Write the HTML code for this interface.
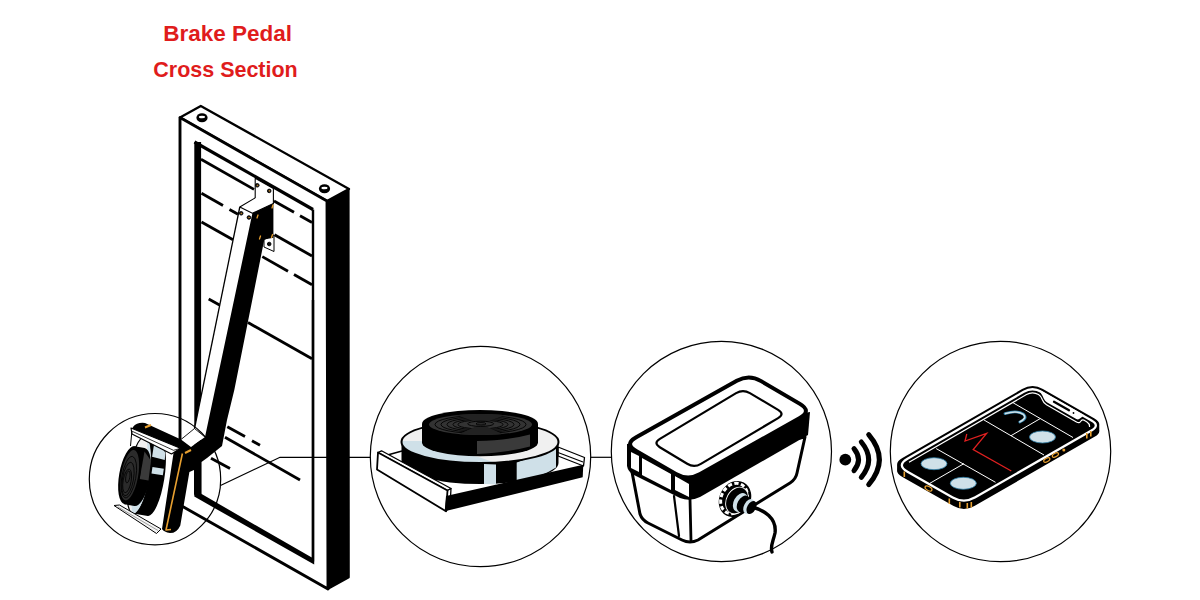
<!DOCTYPE html>
<html><head><meta charset="utf-8">
<style>
html,body{margin:0;padding:0;background:#fff;width:1200px;height:600px;overflow:hidden}
svg{display:block}
text{font-family:"Liberation Sans",sans-serif;font-weight:bold}
</style></head>
<body>
<svg width="1200" height="600" viewBox="0 0 1200 600">
<rect width="1200" height="600" fill="#fff"/>
<!-- title -->
<text x="227.6" y="40.7" font-size="22.5" fill="#e01c1c" text-anchor="middle">Brake Pedal</text>
<text x="225.5" y="76.8" font-size="22.5" fill="#e01c1c" text-anchor="middle" textLength="144.5" lengthAdjust="spacingAndGlyphs">Cross Section</text>

<!-- ===== FRAME ===== -->
<g id="frame" stroke="#000" stroke-linejoin="round">
  <!-- right side face -->
  <polygon points="327,201 348.6,189 348.8,577.3 328,589" fill="#000" stroke-width="2"/>
  <!-- top face -->
  <polygon points="180,117.6 200.8,106 349,189 327,201" fill="#fff" stroke-width="2.3"/>
  <!-- front face -->
  <polygon points="180,117.6 327,201 328,589 180,505" fill="#fff" stroke-width="2.9"/>
  <!-- holes -->
  <ellipse cx="202" cy="117.8" rx="5.6" ry="4.5" fill="#000" stroke="none"/>
  <ellipse cx="202" cy="117" rx="3.1" ry="1.3" fill="#fff" stroke="none"/>
  <ellipse cx="324.5" cy="188.8" rx="5.6" ry="4.5" fill="#000" stroke="none"/>
  <ellipse cx="324.5" cy="188" rx="3.1" ry="1.3" fill="#fff" stroke="none"/>
  <!-- inner opening -->
  <polyline points="194.5,142 313,209.5" fill="none" stroke-width="3.2"/><polyline points="313,209.5 313,561.6" fill="none" stroke-width="2.4"/>
  <polygon points="194.3,489.8 311.8,557.6 311.8,300 314.2,300 314.2,564.6 194.3,496.6" fill="#000" stroke="none"/>
  <rect x="194.3" y="142" width="6.8" height="353" fill="#000" stroke="none"/>
</g>
<!-- slats -->
<g stroke="#000" stroke-width="2.8" fill="none" stroke-linecap="butt">
  <line x1="201" y1="159.3" x2="254" y2="189.4"/>
  <line x1="274" y1="201" x2="294" y2="212.3"/>
  <line x1="300" y1="215.7" x2="312" y2="222.5"/>
  <line x1="201.5" y1="193.3" x2="223" y2="205.5"/>
  <line x1="229.5" y1="209.5" x2="238" y2="214.3"/>
  <line x1="274.5" y1="234.8" x2="312" y2="256"/>
  <line x1="201.5" y1="222" x2="233" y2="239.8"/>
  <line x1="262.3" y1="256.6" x2="288" y2="271.2"/>
  <line x1="294" y1="274.5" x2="312" y2="284.7"/>
  <line x1="208.7" y1="299" x2="219.5" y2="305"/>
  <line x1="248" y1="322.5" x2="312" y2="358.8"/>
  <line x1="227.3" y1="426.7" x2="245" y2="436.5"/>
  <line x1="252" y1="440.8" x2="260" y2="445.3"/>
  <line x1="225" y1="437.2" x2="300" y2="480"/>
  <line x1="211" y1="458.2" x2="230" y2="468.5"/>
</g>

<!-- ===== ARM ===== -->
<g id="arm" stroke="#000" stroke-linejoin="round">
  <!-- white plate + arm top + strip -->
  <path d="M255.2,178.3 L273.4,189 L273.4,204 L252.4,213.3 L205,437 L191,447 L181,439.5 L194.5,428.5 L239.8,207 L255.2,197.9 Z" fill="#fff" stroke="none"/>
  <path d="M255.2,197.9 L255.2,178.3 L273.4,188.5 L273.4,204" fill="none" stroke-width="1.1"/>
  <path d="M255.2,197.9 L239.8,207 L252.4,213.3 L273.4,203.5" fill="none" stroke-width="1.1"/>
  <path d="M239.8,207 L194.5,428.5" fill="none" stroke-width="1.3"/>
  <path d="M181,439.5 L194.5,428.5 L205,437" fill="none" stroke-width="0.9"/>
  <!-- tab -->
  <path d="M264,239.5 L274,235 L274,251.5 L264,247 Z" fill="#fff" stroke-width="1"/>
  <!-- black silhouette: arm + bend + pad -->
  <path d="M252.4,213.3 L273.4,203.5 L273.4,237.8 L264.3,239.5 L234.3,390 L227,420 L222,446 L207,458 L201.5,462 L201.5,494 L194,494 L194,470 L189.4,472 L180.3,525.4 Q177,533 170,533 Q164,532 162,529 L174,450 L131,431 L133,427 Q137,422 145,423 L181,439.5 L191,447 L205,437 Z" fill="#000" stroke="none"/>
  <!-- screws -->
  <g fill="#111" stroke="#000" stroke-width="0.9">
    <circle cx="257.3" cy="185.3" r="1.8"/><circle cx="269.2" cy="190.9" r="1.8"/>
    <circle cx="241.2" cy="213.3" r="1.8"/><circle cx="248.9" cy="217.5" r="1.8"/>
    <circle cx="269.2" cy="244" r="1.8"/>
  </g>
  <g stroke="#e8a030" stroke-width="1.3" stroke-linecap="round">
    <line x1="257" y1="218" x2="258" y2="215"/><line x1="272" y1="208" x2="273" y2="205"/>
    <line x1="259.5" y1="239" x2="260.5" y2="236"/><line x1="271.5" y1="237.5" x2="272.5" y2="234.5"/>
    <circle cx="257.3" cy="185.3" r="0.45" stroke-width="0.5"/><circle cx="269.2" cy="190.9" r="0.45" stroke-width="0.5"/>
    <circle cx="241.2" cy="213.3" r="0.45" stroke-width="0.5"/><circle cx="248.9" cy="217.5" r="0.45" stroke-width="0.5"/>
  </g>
</g>

<!-- ===== CIRCLE 1: pedal ===== -->
<g id="c1" stroke-linejoin="round">
  <path d="M182.4,453.5 L166,530 L171,529.5" fill="none" stroke="#e8a030" stroke-width="1.6"/>
  <line x1="145" y1="427.5" x2="151" y2="425" stroke="#e8a030" stroke-width="2"/>
  <line x1="185" y1="453" x2="191" y2="450" stroke="#e8a030" stroke-width="2"/>
  <!-- base disk (side view) -->
  <g transform="rotate(9 145 476)">
    <path d="M139,437 L154,437 A10.5,39 0 0 1 154,515 L139,515 Z" fill="#000"/>
    <path d="M149,440 Q157,443 161.5,450 L162,457 L149,456 Z" fill="#cfe0e8"/>
    <path d="M151,466 L162.5,466 L162.5,472.5 L151,472.5 Z" fill="#cfe0e8"/>
    <ellipse cx="139" cy="476" rx="10.5" ry="39" fill="#f0f0f0" stroke="#000" stroke-width="1.2"/>
    <path d="M141,438 A10.5,39 0 0 1 149,470 L147,470 Z" fill="#cfe0e8"/>
    <path d="M149,482 A10.5,39 0 0 1 138,515 L136,505 Z" fill="#cfe0e8"/>
  </g>
  <!-- puck -->
  <g transform="rotate(10 134 476.5)">
    <path d="M129.5,446.5 L139.5,446.5 A10.5,29.5 0 0 1 139.5,505.5 L129.5,505.5 Z" fill="#000"/>
    <path d="M140,450 L148,458 L149,478 L140,478 Z" fill="#3a3a3a"/>
    <ellipse cx="129.5" cy="476" rx="10.5" ry="29.5" fill="#000"/>
    <ellipse cx="129.5" cy="476" rx="8.5" ry="25.5" fill="#2b2b2b"/>
    <g fill="none" stroke="#000" stroke-width="0.8">
      <ellipse cx="129" cy="478" rx="7" ry="21"/>
      <ellipse cx="128.5" cy="480" rx="5.5" ry="17"/>
      <ellipse cx="128" cy="482" rx="4" ry="12"/>
      <ellipse cx="128" cy="478" rx="2" ry="6"/>
    </g>
  </g>
  <!-- top rail -->
  <path d="M131,428 L180.5,448.3 L171.5,454 L132,434 Z" fill="#fff" stroke="#000" stroke-width="1.2"/>
  <path d="M132,431.2 L173.5,450.3 L180.5,448.3" fill="none" stroke="#000" stroke-width="0.8"/>
  <line x1="131.8" y1="432" x2="130.5" y2="446" stroke="#000" stroke-width="1"/>
  <!-- bottom rail -->
  <path d="M114,505.5 L119.5,505 L161,529 L156.5,533.5 Z" fill="#f4f4f4" stroke="#000" stroke-width="1"/>
  <path d="M118,507 L158,530.5" stroke="#777" stroke-width="0.7" fill="none"/>
</g>

<!-- ===== CIRCLES ===== -->
<g fill="none" stroke="#000" stroke-width="1.2">
  <circle cx="155" cy="479.2" r="65.7"/>
  <circle cx="480.5" cy="456.5" r="110.2"/>
  <circle cx="721.4" cy="451.5" r="110.1"/>
  <circle cx="1000.5" cy="451.5" r="110.2"/>
  <polyline points="220.5,485.5 280,457.3 370.5,457.3"/>
  <line x1="590.5" y1="457.3" x2="611.3" y2="457.3"/>
</g>

<!-- ===== CIRCLE 2: puck on tray ===== -->
<g id="c2" stroke="#000" stroke-linejoin="round">
  <!-- tray plate top -->
  <polygon points="380,456 446,494 583,464.7 560,450 399,451.5" fill="#fff" stroke="none"/>
  <line x1="387.5" y1="455" x2="402" y2="451" stroke-width="1.5"/>
  <!-- right rail -->
  <polygon points="558,447 584.5,457.5 583.5,466 558,456" fill="#fff" stroke-width="1.3"/>
  <line x1="558" y1="452.5" x2="583" y2="462" stroke-width="1.2"/>
  <!-- base disk -->
  <path d="M401.5,442 L401.5,463 A78.5,21 0 0 0 558.5,463 L558.5,442 Z" fill="#000" stroke="none"/>
  <path d="M484,464 L496,464.6 L496,484.5 L484,484 Z" fill="#cfe0e8" stroke="none"/>
  <path d="M516.7,462.5 L556,448 L556,467.5 Q540,478 516.7,482.5 Z" fill="#cfe0e8" stroke="none"/>
  <clipPath id="bdclip"><ellipse cx="480" cy="442" rx="78.5" ry="21"/></clipPath>
  <ellipse cx="480" cy="442" rx="78.5" ry="21" fill="#f0f0f0" stroke="none"/>
  <path d="M398,441 L423,441 Q440,446 453,451 L480,457.5 L493,462 L493,470 L398,470 Z" fill="#cfe0e8" stroke="none" clip-path="url(#bdclip)"/>
  <ellipse cx="480" cy="442" rx="78.5" ry="21" fill="none" stroke-width="2"/>
  <!-- puck -->
  <path d="M422,424 L422,442.4 A58,13.9 0 0 0 538,442.4 L538,424 Z" fill="#000" stroke="none"/>
  <path d="M477,441 Q510,440 530,434.5 L530,446.5 Q510,452 477,454 Z" fill="#3a3a3a" stroke="none"/>
  <ellipse cx="480" cy="423.9" rx="58" ry="13.9" fill="#000" stroke="none"/>
  <ellipse cx="480.5" cy="424.5" rx="51.5" ry="10.5" fill="#333" stroke="none"/>
  <g fill="none" stroke="#000" stroke-width="0.9">
    <ellipse cx="480.5" cy="424.5" rx="45.5" ry="9"/>
    <ellipse cx="480.5" cy="424.5" rx="39.5" ry="7.8"/>
    <ellipse cx="480.5" cy="424.5" rx="33.5" ry="6.6"/>
    <ellipse cx="480.5" cy="424.5" rx="27.5" ry="5.4"/>
    <ellipse cx="480.5" cy="424.5" rx="22.5" ry="4.4"/>
  </g>
  <clipPath id="pkclip"><ellipse cx="480.5" cy="424.5" rx="51.5" ry="10.5"/></clipPath>
  <g clip-path="url(#pkclip)" fill="#222" stroke="none">
    <polygon points="448,412 514,412 481,424"/>
    <polygon points="453,437 509,437 481,424"/>
  </g>
  <ellipse cx="480.7" cy="423.8" rx="13" ry="2.6" fill="#333" stroke="#000" stroke-width="0.9"/>
  <ellipse cx="481" cy="423.8" rx="5" ry="1.2" fill="none" stroke="#000" stroke-width="0.9"/>
  <!-- left rail -->
  <polygon points="378,452.5 381.5,450.8 451,488.5 447.5,490.5" fill="#fff" stroke-width="1.3"/>
  <polygon points="447.5,490.5 451,488.5 450,506 446,511.3" fill="#fff" stroke-width="1.3"/>
  <polygon points="378,452.5 447.5,490.5 446,511.3 377,469.5" fill="#fff" stroke-width="1.8"/>
  <!-- tray front black -->
  <polygon points="446,496 583.3,464.7 582.7,477.3 444.7,511.3" fill="#000" stroke="none"/>
</g>

<!-- ===== CIRCLE 3: box ===== -->
<g id="c3" stroke="#000" stroke-linejoin="round" stroke-linecap="round">
  <!-- body -->
  <path d="M632,472 L640,514 Q642,520 648,523 L682,540 Q690,544 698,540 L790,483 Q796,479 797,473 L805,437 Z" fill="#fff" stroke-width="3"/>
  <line x1="690" y1="499" x2="691" y2="541" stroke-width="2.8"/>
  <line x1="674" y1="496" x2="679" y2="536" stroke-width="2.2"/>
  <!-- lid sides -->
  <path d="M627,444 L627,466 Q628,472 634,475 L680,498 Q690,502 700,497 L808,435 L810,412 Z" fill="#000" stroke="none"/>
  <polygon points="631,452 639,456 639,472 631,468" fill="#fff" stroke="none"/>
  <polygon points="642,458 671,474 671,490 642,475" fill="#fff" stroke="none"/>
  <polygon points="675,476 689,484 689,497 675,490" fill="#fff" stroke="none"/>
  <!-- lid top -->
  <path d="M636.1,451.0 Q624.0,444.0 636.2,437.2 L736.8,380.8 Q749.0,374.0 761.1,381.1 L799.9,403.9 Q812.0,411.0 799.8,417.9 L700.2,474.1 Q688.0,481.0 675.9,474.0 Z" fill="#fff" stroke-width="4"/>
  <path d="M659.8,447.2 Q653.0,443.0 659.9,438.9 L736.1,393.1 Q743.0,389.0 749.9,393.1 L778.1,409.9 Q785.0,414.0 778.1,418.1 L700.9,463.9 Q694.0,468.0 687.2,463.8 Z" fill="#fff" stroke-width="2.2"/>
  <!-- connector -->
  <ellipse cx="735" cy="499" rx="15.5" ry="18.8" transform="rotate(28 735 499)" fill="#000" stroke="none"/>
  <ellipse cx="734" cy="498.5" rx="12.6" ry="15.8" transform="rotate(28 734 498.5)" fill="none" stroke="#fff" stroke-width="3" stroke-dasharray="4.2 2.4" stroke-linecap="butt"/>
  <ellipse cx="737" cy="500.5" rx="10.5" ry="14" transform="rotate(28 737 500.5)" fill="#000" stroke="#fff" stroke-width="0.9"/>
  <ellipse cx="740.5" cy="502.5" rx="6.8" ry="10" transform="rotate(28 740.5 502.5)" fill="#cfe0e8" stroke="none"/>
  <ellipse cx="743.5" cy="504" rx="6" ry="9" transform="rotate(28 743.5 504)" fill="#000" stroke="none"/>
  <ellipse cx="749" cy="506.5" rx="5" ry="8" transform="rotate(28 749 506.5)" fill="#cfe0e8" stroke="none"/>
  <ellipse cx="751.5" cy="507.5" rx="4.3" ry="7" transform="rotate(28 751.5 507.5)" fill="#000" stroke="none"/>
  <path d="M752,507 C764,510 777,518 775,533 C773,542 770,546 772,552" fill="none" stroke-width="3.4"/>
</g>

<!-- ===== CIRCLE 4: phone ===== -->
<g id="c4">
  <path id="phb" d="M902.4,469.9 Q892.0,464.0 902.4,458.0 L1022.1,389.1 Q1032.5,383.1 1042.9,389.0 L1094.1,418.2 Q1104.5,424.1 1094.1,430.1 L974.4,499.0 Q964.0,505.0 953.6,499.1 Z" fill="#000"/>
  <use href="#phb" y="1.5"/><use href="#phb" y="3"/><use href="#phb" y="4.5"/><use href="#phb" y="6"/><use href="#phb" y="7"/>
  <path d="M907.5,471.7 Q896.2,465.3 907.5,458.8 L1023.7,391.8 Q1032.4,386.8 1041.1,391.7 L1091.5,420.5 Q1100.2,425.4 1091.5,430.4 L975.3,497.3 Q964.0,503.8 952.7,497.4 Z" fill="none" stroke="#fff" stroke-width="2.3"/>
  <path d="M1038.6,389.7 Q1038.0,388.9 1038.9,389.4 L1083.1,414.6 Q1084.0,415.1 1083.2,415.7 L1082.5,416.4 Q1081.0,417.6 1079.5,418.8 L1079.5,418.8 Q1078.0,420.1 1076.3,419.1 L1047.2,402.5 Q1045.0,401.3 1044.0,399.0 L1043.5,398.0 Q1042.5,395.7 1041.1,393.6 Z" fill="#fff" stroke="none"/>
  <line x1="1054" y1="401.8" x2="1069" y2="410.3" stroke="#000" stroke-width="2.3" stroke-linecap="round"/>
  <circle cx="1073.5" cy="413" r="0.9" fill="#000"/>
  <path d="M909.0,462.3 L1026.5,394.6 Q1032.5,391.2 1038.5,394.6 Q1041.5,396.5 1042.5,400 Q1043.5,403 1046.5,404.8 L1076.5,422 Q1079.5,423.7 1081,421 Q1082.5,419 1085,420.8 L1087,422 Q1090,424 1089.5,427" fill="none" stroke="#fff" stroke-width="1.2"/>
  <g stroke="#fff" stroke-width="1" fill="none">
    <line x1="936.2" y1="448.6" x2="995.5" y2="482.3"/>
    <line x1="964" y1="463.6" x2="929.5" y2="483.5"/>
    <line x1="983.7" y1="419.8" x2="1044" y2="455"/>
    <line x1="1011" y1="435.7" x2="1040.2" y2="418.6"/>
    <line x1="1013.1" y1="402.8" x2="1073" y2="437.5"/>
  </g>
  <g fill="#cfe0e8" stroke="#2f7fa8" stroke-width="0.8">
    <ellipse cx="934" cy="463.7" rx="13" ry="6"/>
    <ellipse cx="963.3" cy="483.3" rx="13" ry="6"/>
    <ellipse cx="1042.5" cy="437" rx="13" ry="6"/>

  </g>
  <path d="M1005,413.6 Q1017,409.8 1023.5,414.2 Q1028,418.5 1019.8,422" fill="none" stroke="#2f7fa8" stroke-width="2.8" stroke-linecap="round"/>
  <path d="M1005.5,413.6 Q1017,410 1023.3,414.4 Q1027.2,418.3 1020,421.8" fill="none" stroke="#cfe0e8" stroke-width="1.6" stroke-linecap="round"/>
  <polyline points="966.8,434 965,441 986.6,433.4 973.2,449.5 1011.3,471" fill="none" stroke="#e02020" stroke-width="1.3"/>
  <g fill="#e8a030" stroke="none">
    <rect x="903.5" y="471.5" width="1.6" height="5.5"/>
    <rect x="948.5" y="498.5" width="1.6" height="5.5"/>
    <rect x="959" y="502" width="1.6" height="5.5"/>
    <rect x="966.5" y="503" width="1.6" height="5.5"/>
    <rect x="970.5" y="502" width="1.6" height="5.5"/>
    <rect x="1086" y="433" width="1.6" height="5.5"/>
    <rect x="1090" y="431" width="1.6" height="5.5"/>
    <circle cx="1063.8" cy="450" r="1.5"/>
  </g>
  <g fill="none" stroke="#e8a030" stroke-width="1.2">
    <ellipse cx="928.5" cy="488.5" rx="3.8" ry="2" transform="rotate(30 928.5 488.5)"/>
    <ellipse cx="1046.8" cy="460" rx="3.4" ry="1.8" transform="rotate(-30 1046.8 460)"/>
    <ellipse cx="1055.4" cy="455" rx="3.4" ry="1.8" transform="rotate(-30 1055.4 455)"/>
  </g>
</g>

<!-- wireless -->
<g fill="none" stroke="#000" stroke-width="5" stroke-linecap="round">
  <circle cx="845.3" cy="459.7" r="5.9" fill="#000" stroke="none"/>
  <path d="M854,448.7 Q863,459.7 854,470.7"/>
  <path d="M861.3,442 Q876,459.7 861.3,477.3"/>
  <path d="M868.7,434.7 Q890,459.7 868.7,484.7"/>
</g>

</svg>
</body></html>
